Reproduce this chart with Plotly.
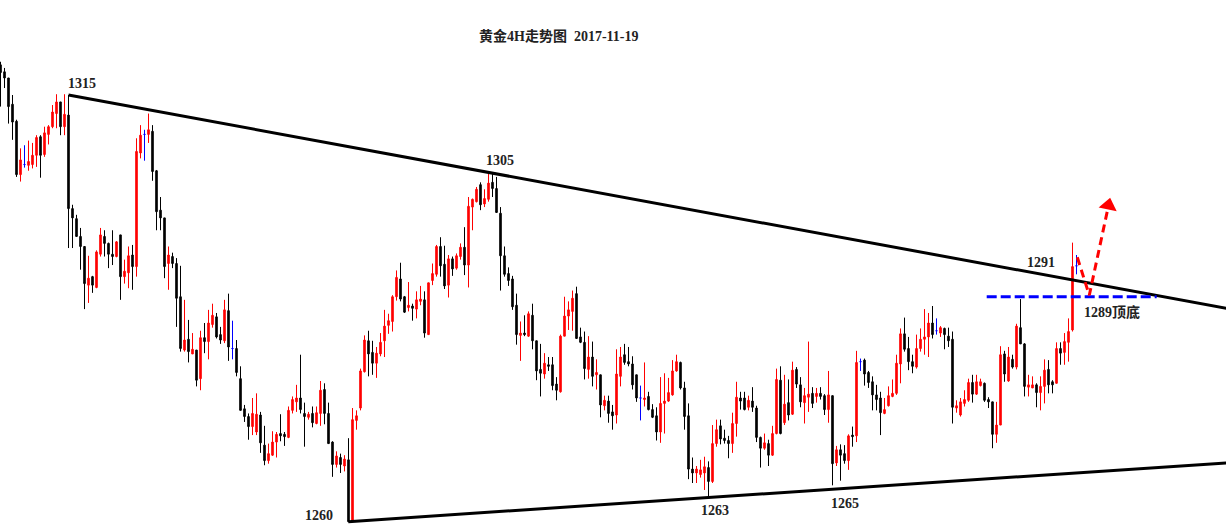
import plotly.graph_objects as go

# ---- candle data (4H gold) ----
opens = [
    1318.9, 1318.0, 1317.2, 1313.8, 1311.6, 1304.7, 1306.0, 1305.9, 1306.0, 1307.2,
    1309.6, 1307.3, 1309.9, 1310.9, 1312.6, 1314.1, 1310.9, 1312.4, 1300.3, 1299.0,
    1296.7, 1295.4, 1290.4, 1291.5, 1290.1, 1294.4, 1296.7, 1295.8, 1294.4, 1294.1,
    1296.9, 1291.5, 1292.0, 1294.3, 1292.8, 1307.5, 1309.9, 1309.9, 1310.3, 1305.2,
    1300.1, 1299.1, 1293.2, 1294.1, 1293.2, 1288.9, 1282.0, 1283.4, 1281.5, 1282.0,
    1278.3, 1283.6, 1283.1, 1285.3, 1286.3, 1284.0, 1283.2, 1287.1, 1282.2, 1282.2,
    1278.3, 1274.4, 1273.4, 1272.1, 1271.4, 1273.6, 1269.7, 1267.7, 1268.4, 1270.1,
    1271.2, 1271.1, 1270.7, 1274.2, 1275.3, 1275.8, 1273.8, 1273.3, 1273.8, 1272.5,
    1273.8, 1276.9, 1273.8, 1270.1, 1267.2, 1268.1, 1267.0, 1267.8, 1260.0, 1272.9,
    1274.5, 1279.2, 1283.2, 1281.7, 1280.3, 1281.5, 1283.2, 1285.2, 1285.7, 1288.9,
    1291.2, 1288.9, 1287.5, 1287.7, 1287.3, 1288.3, 1288.5, 1284.0, 1291.0, 1291.8,
    1295.4, 1293.1, 1290.4, 1293.8, 1292.6, 1294.1, 1295.3, 1293.0, 1300.5, 1301.2,
    1303.4, 1300.9, 1301.5, 1303.7, 1302.9, 1299.7, 1294.2, 1291.9, 1291.2, 1287.8,
    1283.9, 1284.2, 1283.8, 1286.5, 1283.2, 1279.5, 1278.9, 1280.1, 1280.1, 1277.6,
    1276.6, 1283.8, 1286.4, 1287.0, 1289.3, 1283.7, 1283.0, 1279.5, 1281.1, 1278.8,
    1278.8, 1274.8, 1275.4, 1274.0, 1273.6, 1278.6, 1281.4, 1280.5, 1280.2, 1278.8,
    1275.8, 1275.6, 1276.0, 1274.3, 1273.5, 1271.4, 1275.1, 1275.4, 1276.2, 1279.3,
    1280.4, 1277.1, 1273.5, 1266.6, 1266.1, 1265.9, 1266.1, 1266.8, 1265.0, 1269.9,
    1272.2, 1270.6, 1270.3, 1269.9, 1272.5, 1275.8, 1275.8, 1274.6, 1275.4, 1274.5,
    1270.7, 1269.3, 1269.9, 1268.4, 1271.2, 1278.1, 1272.6, 1275.2, 1273.7, 1279.5,
    1277.5, 1275.2, 1275.9, 1276.4, 1276.0, 1276.4, 1276.1, 1274.3, 1276.1, 1267.4,
    1269.1, 1268.6, 1267.7, 1271.0, 1270.9, 1280.5, 1280.7, 1279.1, 1277.9, 1276.2,
    1275.8, 1273.8, 1274.8, 1276.0, 1276.4, 1280.2, 1284.1, 1282.2, 1280.5, 1279.8,
    1282.2, 1283.4, 1283.7, 1285.5, 1284.5, 1284.2, 1284.8, 1283.8, 1283.4, 1274.5,
    1273.6, 1275.1, 1275.5, 1277.8, 1276.3, 1277.4, 1277.7, 1275.6, 1275.3, 1271.1,
    1272.3, 1281.5, 1278.0, 1280.8, 1279.8, 1284.9, 1282.8, 1277.2, 1277.1, 1277.5,
    1276.5, 1277.3, 1279.5, 1277.9, 1277.7, 1282.2, 1281.7, 1283.0, 1284.6, 1292.9,
]
highs = [
    1319.3, 1318.5, 1317.2, 1315.0, 1311.8, 1308.1, 1308.5, 1309.1, 1308.8, 1309.8,
    1309.8, 1310.9, 1311.1, 1313.7, 1315.1, 1314.1, 1315.1, 1315.0, 1300.8, 1299.5,
    1297.8, 1295.4, 1294.2, 1291.6, 1294.9, 1297.8, 1297.5, 1295.9, 1297.5, 1296.1,
    1296.9, 1293.7, 1295.4, 1295.6, 1309.4, 1311.1, 1310.5, 1312.6, 1311.1, 1305.3,
    1301.8, 1299.1, 1295.4, 1294.6, 1293.9, 1292.9, 1288.5, 1285.9, 1284.2, 1282.0,
    1284.5, 1285.5, 1287.2, 1288.0, 1286.8, 1285.0, 1288.5, 1289.3, 1285.8, 1283.3,
    1279.9, 1274.9, 1273.8, 1275.8, 1276.4, 1274.0, 1272.2, 1269.9, 1271.5, 1271.4,
    1273.7, 1271.4, 1274.7, 1276.0, 1277.5, 1281.4, 1275.2, 1274.0, 1274.7, 1274.7,
    1278.0, 1277.7, 1275.2, 1270.2, 1268.9, 1268.6, 1268.4, 1270.6, 1274.5, 1274.2,
    1279.6, 1283.9, 1284.5, 1283.2, 1282.4, 1284.2, 1287.2, 1286.7, 1289.1, 1292.3,
    1293.3, 1289.0, 1290.8, 1288.0, 1289.6, 1290.3, 1289.6, 1290.7, 1293.2, 1295.6,
    1296.6, 1295.5, 1294.3, 1294.1, 1294.5, 1295.8, 1297.9, 1301.8, 1301.6, 1303.1,
    1303.7, 1302.8, 1304.8, 1304.8, 1304.4, 1300.5, 1295.4, 1292.7, 1291.6, 1289.3,
    1285.7, 1286.5, 1287.0, 1288.0, 1283.2, 1282.8, 1281.6, 1281.1, 1281.1, 1278.5,
    1284.0, 1288.9, 1288.3, 1289.7, 1290.2, 1284.9, 1284.4, 1283.8, 1283.1, 1280.8,
    1278.8, 1276.1, 1276.1, 1274.9, 1282.1, 1282.4, 1282.8, 1282.4, 1281.2, 1278.8,
    1277.4, 1280.4, 1276.6, 1275.0, 1274.6, 1278.5, 1279.0, 1278.4, 1280.7, 1281.4,
    1280.5, 1277.9, 1275.1, 1268.1, 1267.0, 1267.8, 1268.2, 1267.6, 1272.3, 1273.0,
    1273.0, 1271.7, 1270.9, 1273.9, 1277.9, 1276.6, 1276.6, 1276.1, 1277.2, 1274.8,
    1270.8, 1271.2, 1270.4, 1272.2, 1279.6, 1279.9, 1278.8, 1278.2, 1280.5, 1279.8,
    1278.5, 1277.1, 1283.1, 1277.2, 1277.1, 1277.2, 1276.3, 1279.3, 1276.1, 1269.6,
    1269.8, 1269.7, 1271.1, 1272.1, 1281.9, 1280.9, 1280.9, 1279.3, 1278.6, 1277.5,
    1276.6, 1275.8, 1277.3, 1278.2, 1281.4, 1284.8, 1286.2, 1283.7, 1281.4, 1284.0,
    1284.8, 1287.3, 1286.8, 1287.7, 1286.1, 1285.1, 1284.9, 1284.9, 1284.4, 1275.5,
    1275.8, 1276.8, 1278.3, 1278.8, 1278.8, 1278.3, 1277.8, 1275.9, 1275.3, 1275.3,
    1282.5, 1281.9, 1282.4, 1281.4, 1285.4, 1288.6, 1282.9, 1278.8, 1278.6, 1277.7,
    1278.6, 1280.8, 1280.7, 1278.1, 1283.0, 1283.0, 1284.2, 1286.1, 1295.9, 1294.3,
]
lows = [
    1313.5, 1315.9, 1311.3, 1309.2, 1304.4, 1303.8, 1305.6, 1305.2, 1305.5, 1305.7,
    1304.3, 1307.0, 1308.6, 1310.7, 1310.7, 1309.8, 1309.8, 1295.2, 1295.2, 1296.7,
    1292.4, 1287.3, 1288.1, 1289.4, 1290.0, 1294.1, 1294.1, 1292.6, 1293.0, 1294.0,
    1288.5, 1290.6, 1290.0, 1289.8, 1291.5, 1306.8, 1306.5, 1308.8, 1303.9, 1297.5,
    1297.5, 1291.3, 1289.8, 1292.6, 1285.0, 1281.8, 1281.8, 1280.4, 1281.5, 1277.3,
    1276.8, 1281.6, 1280.8, 1284.9, 1283.5, 1282.8, 1282.9, 1280.6, 1280.8, 1278.6,
    1274.2, 1272.7, 1270.4, 1271.0, 1271.0, 1268.7, 1267.1, 1267.3, 1268.3, 1268.1,
    1270.2, 1269.6, 1270.6, 1273.8, 1274.0, 1273.8, 1269.5, 1273.0, 1272.0, 1272.4,
    1272.2, 1272.4, 1269.9, 1265.6, 1266.8, 1266.1, 1266.3, 1259.8, 1259.9, 1271.7,
    1274.2, 1279.1, 1278.6, 1278.8, 1278.4, 1281.2, 1281.1, 1284.1, 1284.4, 1288.4,
    1288.3, 1286.8, 1287.0, 1285.8, 1286.1, 1287.8, 1283.6, 1284.0, 1290.4, 1291.5,
    1291.5, 1289.9, 1288.8, 1291.6, 1292.4, 1293.7, 1291.7, 1290.1, 1297.5, 1301.1,
    1300.1, 1300.5, 1301.2, 1301.8, 1299.8, 1289.7, 1291.5, 1290.3, 1287.2, 1282.7,
    1280.6, 1283.8, 1283.7, 1282.1, 1278.1, 1276.0, 1278.3, 1279.3, 1276.8, 1275.5,
    1276.5, 1283.8, 1284.6, 1284.5, 1283.5, 1282.9, 1278.2, 1278.3, 1277.3, 1276.9,
    1273.3, 1274.2, 1272.6, 1271.7, 1272.5, 1277.3, 1280.1, 1279.9, 1276.9, 1275.3,
    1272.9, 1274.7, 1274.2, 1273.2, 1270.3, 1270.0, 1271.2, 1275.3, 1276.1, 1279.2,
    1276.9, 1271.7, 1265.3, 1264.8, 1264.8, 1265.5, 1263.9, 1263.0, 1264.8, 1269.5,
    1269.8, 1269.9, 1268.0, 1268.7, 1270.8, 1274.3, 1274.2, 1274.2, 1274.0, 1270.1,
    1266.8, 1269.1, 1267.0, 1268.3, 1271.1, 1271.1, 1272.3, 1272.9, 1273.6, 1277.1,
    1274.6, 1272.5, 1274.0, 1274.5, 1275.2, 1275.6, 1273.6, 1272.6, 1264.5, 1267.0,
    1265.1, 1267.3, 1266.5, 1269.5, 1270.1, 1279.3, 1277.4, 1277.1, 1274.2, 1274.2,
    1271.0, 1273.7, 1274.7, 1275.9, 1276.2, 1277.7, 1281.8, 1279.4, 1279.0, 1279.6,
    1281.8, 1281.4, 1281.1, 1283.5, 1284.0, 1283.7, 1282.1, 1282.4, 1272.5, 1273.9,
    1273.4, 1274.7, 1275.3, 1275.2, 1276.2, 1277.3, 1275.3, 1274.5, 1269.3, 1270.0,
    1272.3, 1277.9, 1277.9, 1279.6, 1279.5, 1282.8, 1276.0, 1276.0, 1277.1, 1274.6,
    1274.2, 1275.1, 1276.4, 1276.4, 1277.7, 1280.1, 1280.1, 1280.5, 1284.4, 1291.8,
]
closes = [
    1317.9, 1317.2, 1313.5, 1311.5, 1304.7, 1306.6, 1306.0, 1306.4, 1307.2, 1309.5,
    1307.2, 1310.1, 1310.9, 1312.8, 1314.1, 1310.9, 1312.5, 1300.3, 1299.1, 1296.7,
    1295.4, 1290.6, 1291.3, 1290.4, 1294.7, 1296.9, 1295.8, 1294.4, 1294.1, 1296.0,
    1291.5, 1292.2, 1294.2, 1292.8, 1307.7, 1309.8, 1309.9, 1310.5, 1305.1, 1299.9,
    1299.1, 1292.8, 1294.3, 1293.2, 1288.7, 1282.2, 1283.3, 1281.8, 1282.1, 1278.1,
    1283.6, 1283.1, 1285.5, 1286.5, 1283.7, 1283.3, 1287.2, 1282.4, 1282.2, 1279.1,
    1274.2, 1273.4, 1272.1, 1273.8, 1273.7, 1270.0, 1267.7, 1268.6, 1270.1, 1271.1,
    1270.9, 1270.8, 1274.2, 1275.6, 1275.8, 1274.3, 1273.4, 1273.7, 1272.6, 1273.9,
    1276.8, 1273.8, 1269.9, 1267.2, 1268.3, 1267.2, 1267.9, 1259.8, 1273.0, 1273.5,
    1279.3, 1283.3, 1281.5, 1280.3, 1281.6, 1283.0, 1285.1, 1285.8, 1288.9, 1291.4,
    1288.6, 1286.9, 1287.8, 1287.4, 1288.5, 1288.6, 1284.2, 1290.7, 1291.9, 1295.4,
    1292.9, 1290.3, 1293.8, 1292.5, 1294.2, 1295.3, 1293.0, 1300.6, 1301.5, 1302.8,
    1300.8, 1301.6, 1303.6, 1302.9, 1299.8, 1294.2, 1291.8, 1291.0, 1287.6, 1284.0,
    1284.2, 1284.0, 1286.7, 1283.2, 1279.3, 1279.0, 1280.3, 1279.9, 1277.4, 1276.8,
    1283.8, 1286.4, 1287.2, 1288.7, 1283.5, 1283.0, 1279.6, 1281.1, 1278.6, 1279.1,
    1274.9, 1275.5, 1273.8, 1273.5, 1278.9, 1281.1, 1280.4, 1280.2, 1277.5, 1275.8,
    1275.8, 1275.8, 1274.3, 1273.3, 1271.4, 1275.1, 1275.4, 1276.5, 1279.3, 1280.5,
    1277.1, 1273.4, 1266.6, 1266.1, 1266.6, 1266.5, 1266.9, 1265.0, 1269.9, 1271.7,
    1270.5, 1270.3, 1269.9, 1272.5, 1275.9, 1275.4, 1274.3, 1275.5, 1274.6, 1270.7,
    1269.3, 1270.0, 1268.4, 1271.2, 1278.2, 1271.2, 1275.0, 1273.6, 1279.4, 1277.6,
    1275.3, 1276.1, 1276.3, 1275.1, 1276.4, 1276.0, 1274.3, 1276.2, 1267.3, 1269.1,
    1268.4, 1267.7, 1270.9, 1270.8, 1280.4, 1280.5, 1278.9, 1277.8, 1276.2, 1275.6,
    1273.9, 1274.3, 1276.1, 1276.4, 1280.3, 1284.1, 1282.1, 1280.5, 1279.9, 1282.2,
    1283.4, 1283.7, 1285.5, 1284.0, 1284.5, 1284.9, 1284.0, 1283.2, 1274.6, 1274.8,
    1275.3, 1275.6, 1277.8, 1276.3, 1277.9, 1277.9, 1275.5, 1275.3, 1271.1, 1272.3,
    1281.4, 1278.9, 1281.1, 1279.8, 1285.1, 1282.8, 1277.3, 1277.5, 1277.5, 1276.5,
    1277.3, 1279.4, 1277.5, 1277.5, 1282.2, 1281.6, 1283.1, 1284.4, 1292.8, 1292.9,
]
bars = list(range(len(opens)))

# ---- drawn annotations (bar index, price) ----
upper_trend_x = [17, 310]
upper_trend_y = [1315.0, 1287.06]
lower_trend_x = [86.95, 310]
lower_trend_y = [1259.8, 1267.52]
support_x = [246.55, 289.05]
support_y = [1288.9, 1288.9]
path_x = [269.2, 272.2, 277.0]
path_y = [1294.0, 1289.1, 1300.7]

label_texts = ["1315", "1305", "1260", "1263", "1265", "1291", "1289顶底"]
label_x = [20.4, 124.9, 79.6, 178.6, 211.2, 260.1, 277.8]
label_y = [1316.5, 1306.5, 1260.6, 1261.3, 1262.2, 1293.3, 1286.9]

title_text = "黄金4H走势图\u00a0\u00a02017-11-19"

is_doji = [o == c for o, c in zip(opens, closes)]


def pick(vals, want):
    return [v if d == want else None for v, d in zip(vals, is_doji)]


fig = go.Figure()
fig.add_trace(go.Candlestick(
    x=bars, open=pick(opens, False), high=pick(highs, False),
    low=pick(lows, False), close=pick(closes, False),
    increasing=dict(line=dict(color="#ff0000", width=1), fillcolor="#ff0000"),
    decreasing=dict(line=dict(color="#000000", width=1), fillcolor="#000000"),
    whiskerwidth=0, hoverinfo="skip", showlegend=False,
))
fig.add_trace(go.Candlestick(
    x=bars, open=pick(opens, True), high=pick(highs, True),
    low=pick(lows, True), close=pick(closes, True),
    increasing=dict(line=dict(color="#0000ff", width=1), fillcolor="#0000ff"),
    decreasing=dict(line=dict(color="#0000ff", width=1), fillcolor="#0000ff"),
    whiskerwidth=0, hoverinfo="skip", showlegend=False,
))

fig.add_trace(go.Scatter(x=upper_trend_x, y=upper_trend_y, mode="lines",
                         line=dict(color="#000000", width=3), hoverinfo="skip", showlegend=False))
fig.add_trace(go.Scatter(x=lower_trend_x, y=lower_trend_y, mode="lines",
                         line=dict(color="#000000", width=3), hoverinfo="skip", showlegend=False))
fig.add_trace(go.Scatter(x=support_x, y=support_y, mode="lines",
                         line=dict(color="#0000ff", width=3, dash="10px,4px"),
                         hoverinfo="skip", showlegend=False))
fig.add_trace(go.Scatter(x=path_x, y=path_y, mode="lines",
                         line=dict(color="#ff0000", width=3, dash="8px,5px"),
                         hoverinfo="skip", showlegend=False))
fig.add_trace(go.Scatter(x=[path_x[-1]], y=[path_y[-1]], mode="markers",
                         marker=dict(symbol="triangle-up", size=16, angle=12, color="#ff0000",
                                     line=dict(width=0)),
                         hoverinfo="skip", showlegend=False))

annotations = []
for t, lx, ly in zip(label_texts, label_x, label_y):
    annotations.append(dict(
        x=lx, y=ly, xref="x", yref="y", text="<b>" + t + "</b>", showarrow=False,
        xanchor="center", yanchor="middle",
        font=dict(family="Liberation Serif, Noto Sans CJK SC", size=14, color="#222222"),
    ))
annotations.append(dict(
    x=558 / 1226, y=1 - 36 / 528, xref="paper", yref="paper", text="<b>" + title_text + "</b>",
    showarrow=False, xanchor="center", yanchor="middle",
    font=dict(family="Liberation Serif, Noto Sans CJK SC", size=14, color="#222222"),
))

fig.update_layout(
    width=1226, height=528,
    margin=dict(l=0, r=0, t=0, b=0),
    paper_bgcolor="#ffffff", plot_bgcolor="#ffffff",
    boxgap=0.45,
    xaxis=dict(visible=False, range=[-0.125, 306.375], rangeslider=dict(visible=False),
               showgrid=False, zeroline=False),
    yaxis=dict(visible=False, range=[1258.98, 1327.29], showgrid=False, zeroline=False),
    annotations=annotations,
    hovermode=False,
)

fig.write_html(
    "out.html",
    config={"displayModeBar": False, "staticPlot": True},
    post_script="document.body.style.margin='0';document.body.style.overflow='hidden';",
)
